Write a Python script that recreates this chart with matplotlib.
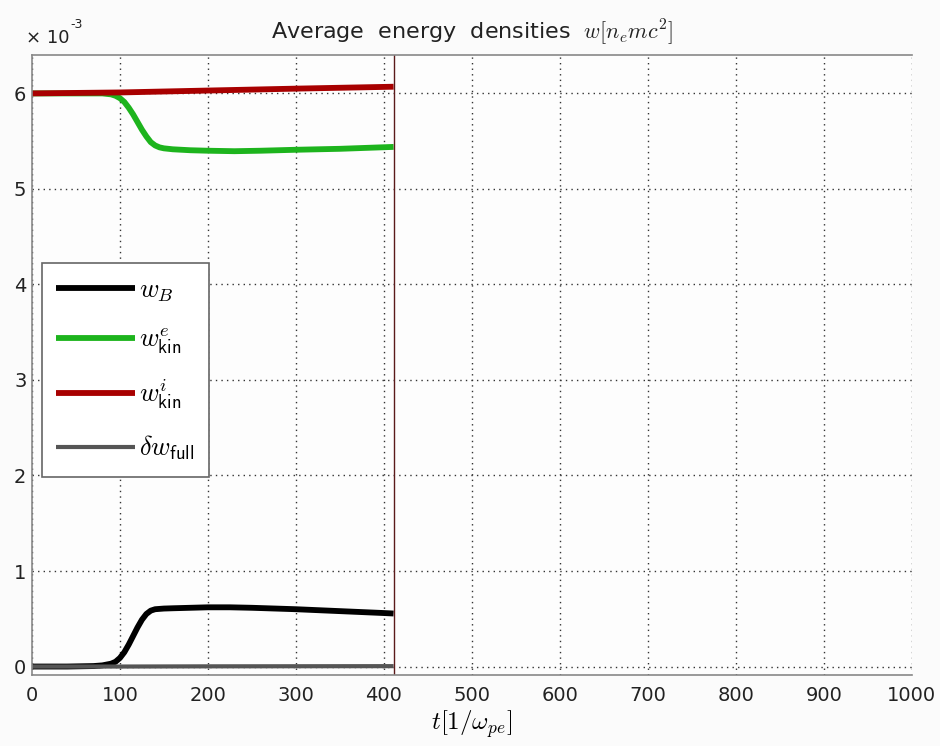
import matplotlib
matplotlib.use("Agg")
import matplotlib.pyplot as plt

plt.rcParams['mathtext.fontset'] = 'cm'
plt.rcParams['font.family'] = ['DejaVu Sans']

# Time samples [1/omega_pe] and energy densities [1e-3 n_e m c^2]
t_B = [0, 40, 70, 80, 90, 95, 100, 105, 110, 115, 120, 125, 130, 135, 140, 150,
       160, 180, 200, 225, 250, 300, 350, 400, 411]
w_B = [0.0, 0.0, 0.005, 0.012, 0.03, 0.05, 0.09, 0.15, 0.23, 0.32, 0.41, 0.49,
       0.55, 0.585, 0.60, 0.607, 0.61, 0.615, 0.62, 0.62, 0.615, 0.60, 0.58, 0.56, 0.555]

t_e = [0, 80, 85, 90, 95, 100, 105, 110, 115, 120, 125, 130, 135, 140, 145, 150,
       160, 180, 200, 230, 260, 300, 350, 411]
w_e = [6.0, 6.0, 5.995, 5.99, 5.975, 5.95, 5.91, 5.85, 5.78, 5.70, 5.62, 5.55,
       5.49, 5.455, 5.435, 5.425, 5.415, 5.405, 5.40, 5.395, 5.40, 5.41, 5.42, 5.44]

t_i = [0, 100, 200, 300, 411]
w_i = [6.0, 6.01, 6.03, 6.05, 6.07]

t_full = [0, 100, 200, 300, 411]
w_full = [0.0, 0.0, 0.002, 0.003, 0.004]

t_now = 411
x_ticks = [0, 100, 200, 300, 400, 500, 600, 700, 800, 900, 1000]
y_ticks = [0, 1, 2, 3, 4, 5, 6]

fig = plt.figure(figsize=(9.4, 7.46), dpi=100, facecolor='#fbfbfb')
ax = fig.add_axes([0.034, 0.095, 0.936, 0.831])
ax.set_facecolor('#fdfdfd')

ax.plot(t_B, w_B, color='black', lw=4.2, label=r'$w_B$', solid_capstyle='butt')
ax.plot(t_e, w_e, color='#1db41d', lw=4.2, label=r'$w^e_{\mathsf{kin}}$', solid_capstyle='butt')
ax.plot(t_i, w_i, color='#a80000', lw=4.2, label=r'$w^i_{\mathsf{kin}}$', solid_capstyle='butt')
ax.plot(t_full, w_full, color='#555555', lw=3.0, label=r'$\delta w_{\mathsf{full}}$', solid_capstyle='butt')
ax.axvline(t_now, color='#5a1a1a', lw=1.0)

ax.set_xlim(0, 1000)
ax.set_ylim(-0.09, 6.4)
ax.set_xticks(x_ticks)
ax.set_yticks(y_ticks)
ax.tick_params(axis='both', length=0, labelsize=14, colors='#222222', pad=8)
ax.tick_params(axis='y', pad=4)
ax.grid(True, linestyle=(0, (1, 3)), color='#333333', lw=1.0)

for side in ['top', 'left', 'bottom']:
    ax.spines[side].set_color('#888888')
    ax.spines[side].set_linewidth(1.2)
ax.spines['right'].set_visible(False)

ax.set_title(r'Average  energy  densities  $w[n_e mc^2]$', fontsize=16, color='#222222', pad=12)
ax.set_xlabel(r'$t[1/\omega_{pe}]$', fontsize=18, labelpad=2)

fig.text(0.028, 0.937, '× 10', fontsize=13, color='#222222', ha='left', va='bottom')
fig.text(0.075, 0.958, '-3', fontsize=9, color='#222222', ha='left', va='bottom')

leg = ax.legend(loc='upper left', bbox_to_anchor=(0.011, 0.665), fontsize=19,
                handlelength=3.0, handletextpad=0.15, labelspacing=0.85,
                borderpad=0.55, frameon=True, fancybox=False, borderaxespad=0)
leg.get_frame().set_edgecolor('#666666')
leg.get_frame().set_linewidth(1.2)
leg.get_frame().set_facecolor('white')
leg.get_frame().set_alpha(1.0)

fig.savefig('out.png', dpi=100, facecolor=fig.get_facecolor())
